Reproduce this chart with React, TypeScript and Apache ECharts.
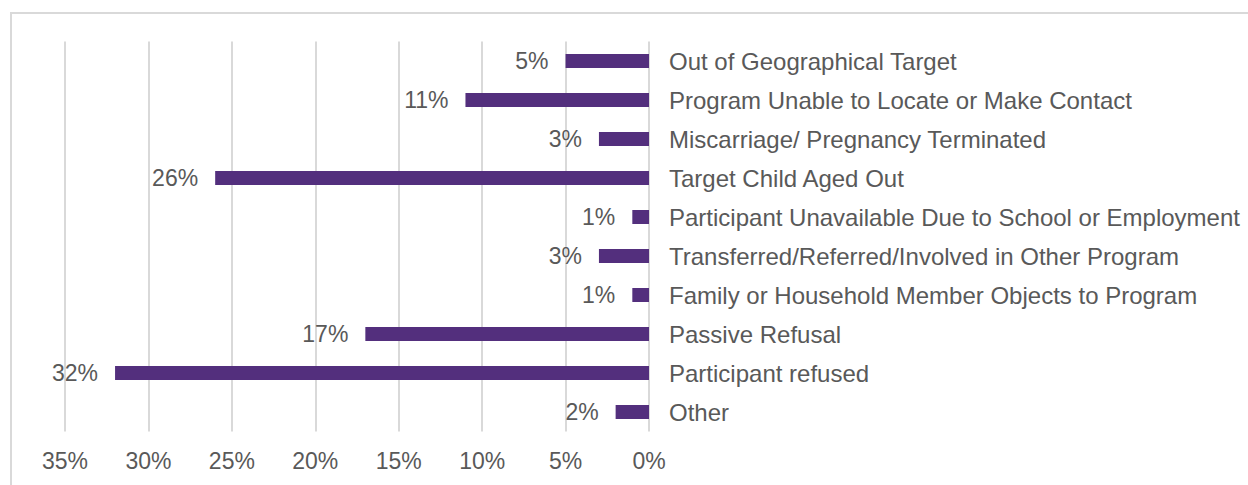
import React, { useEffect, useRef } from "react";
import * as echarts from "echarts";

const categories = [
  "Out of Geographical Target",
  "Program Unable to Locate or Make Contact",
  "Miscarriage/ Pregnancy Terminated",
  "Target Child Aged Out",
  "Participant Unavailable Due to School or Employment",
  "Transferred/Referred/Involved in Other Program",
  "Family or Household Member Objects to Program",
  "Passive Refusal",
  "Participant refused",
  "Other",
];
const values = [5, 11, 3, 26, 1, 3, 1, 17, 32, 2];

const FONT = "Liberation Sans";
const TEXT = "#595959";

export default function App() {
  const ref = useRef<HTMLDivElement>(null);
  useEffect(() => {
    if (!ref.current) return;
    const chart = echarts.init(ref.current, undefined, { renderer: "svg" });
    chart.setOption({
      animation: false,
      graphic: [
        {
          type: "rect",
          shape: { x: 11, y: 13, width: 1400, height: 700 },
          style: { fill: "none", stroke: "#d9d9d9", lineWidth: 2 },
          silent: true,
          z: -1,
        },
      ],
      grid: { left: 65, right: 599, top: 41.5, bottom: 53.5, containLabel: false },
      xAxis: {
        type: "value",
        inverse: true,
        min: 0,
        max: 35,
        interval: 5,
        axisLine: { show: false },
        axisTick: { show: false },
        splitLine: { show: true, lineStyle: { color: "#d9d9d9", width: 2 } },
        axisLabel: {
          formatter: (v: number) => v + "%",
          color: TEXT,
          fontFamily: FONT,
          fontSize: 23,
          margin: 18,
        },
      },
      yAxis: {
        type: "category",
        data: categories,
        inverse: true,
        position: "right",
        axisLine: { show: false },
        axisTick: { show: false },
        axisLabel: {
          color: TEXT,
          fontFamily: FONT,
          fontSize: 24,
          margin: 20,
        },
      },
      series: [
        {
          type: "bar",
          data: values,
          barWidth: 14,
          itemStyle: { color: "#532F7D" },
          label: {
            show: true,
            position: "left",
            distance: 17,
            formatter: (p: any) => p.value + "%",
            color: TEXT,
            fontFamily: FONT,
            fontSize: 23,
          },
        },
      ],
    });
    return () => chart.dispose();
  }, []);
  return (
    <div
      ref={ref}
      style={{ position: "absolute", left: 0, top: 0, width: 1248, height: 485 }}
    />
  );
}
